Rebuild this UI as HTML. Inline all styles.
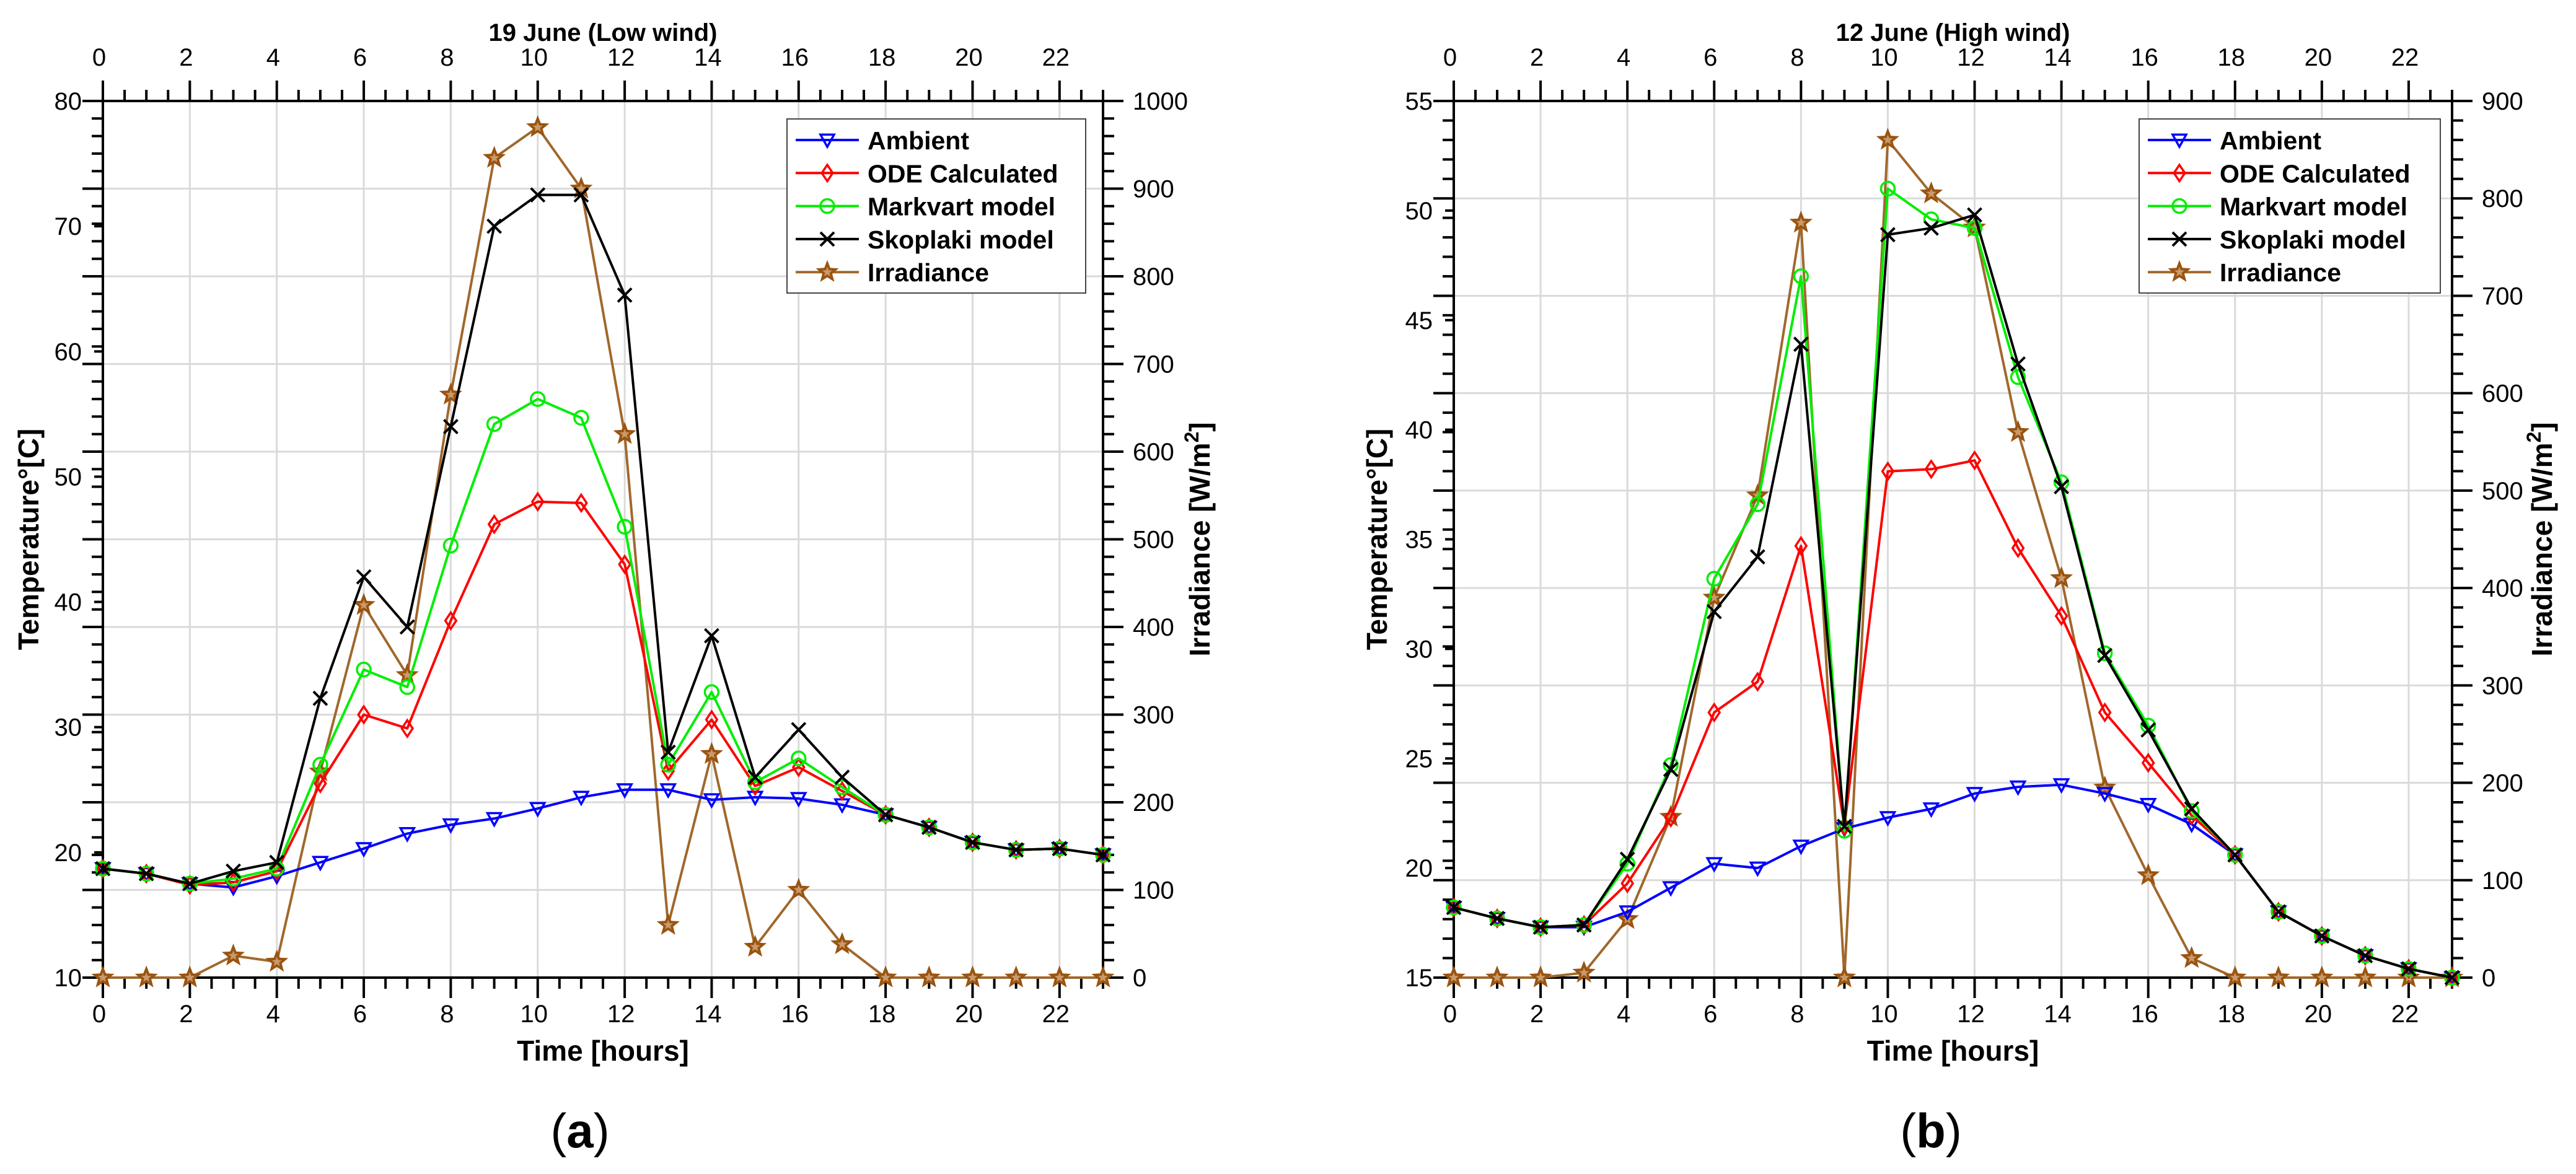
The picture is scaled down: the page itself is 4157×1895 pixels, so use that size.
<!DOCTYPE html>
<html><head><meta charset="utf-8"><style>
html,body{margin:0;padding:0;background:#fff}
svg{display:block}
text{font-family:"Liberation Sans",sans-serif}
</style></head><body>
<svg id="fig" xmlns="http://www.w3.org/2000/svg" width="4157" height="1895" viewBox="0 0 4157 1895"></svg>
<script>
const hours = [0,1,2,3,4,5,6,7,8,9,10,11,12,13,14,15,16,17,18,19,20,21,22,23];
// Panel (a) 19 June
const aAmbient = [18.7,18.3,17.5,17.2,18.1,19.2,20.3,21.5,22.2,22.7,23.5,24.4,25.0,25.0,24.2,24.4,24.3,23.8,23.0,22.0,20.8,20.2,20.3,19.8];
const aODE = [18.7,18.3,17.4,17.6,18.5,25.5,31.0,29.9,38.5,46.2,48.0,47.9,43.0,26.5,30.6,25.3,26.8,24.9,23.0,22.0,20.8,20.2,20.3,19.8];
const aMarkvart = [18.7,18.3,17.5,17.9,18.7,27.0,34.6,33.2,44.5,54.2,56.2,54.7,46.0,27.0,32.8,25.6,27.5,25.2,23.0,22.0,20.8,20.2,20.3,19.8];
const aSkoplaki = [18.7,18.3,17.5,18.5,19.2,32.3,42.0,38.0,54.0,70.0,72.5,72.5,64.5,28.0,37.3,26.0,29.8,26.0,23.0,22.0,20.8,20.2,20.3,19.8];
const aIrr = [0,0,0,25,18,235,425,345,665,935,970,900,620,60,255,35,100,38,0,0,0,0,0,0];
// Panel (b) 12 June
const bAmbient = [18.2,17.7,17.3,17.3,18.0,19.1,20.2,20.0,21.0,21.8,22.3,22.7,23.4,23.7,23.8,23.4,22.9,22.0,20.6,18.0,16.9,16.0,15.4,15.0];
const bODE = [18.2,17.7,17.3,17.4,19.3,22.3,27.1,28.5,34.7,21.9,38.1,38.2,38.6,34.6,31.5,27.1,24.8,22.4,20.6,18.0,16.9,16.0,15.4,15.0];
const bMarkvart = [18.2,17.7,17.3,17.4,20.2,24.7,33.2,36.6,47.0,21.7,51.0,49.6,49.2,42.4,37.6,29.8,26.5,22.6,20.6,18.0,16.9,16.0,15.4,15.0];
const bSkoplaki = [18.2,17.7,17.3,17.4,20.4,24.5,31.7,34.2,43.9,21.9,48.9,49.2,49.8,43.0,37.4,29.7,26.3,22.7,20.6,18.0,16.9,16.0,15.4,15.0];
const bIrr = [0,0,0,5,60,165,390,495,775,0,860,805,770,560,410,195,105,20,0,0,0,0,0,0];
const xTickLabels = [0,2,4,6,8,10,12,14,16,18,20,22];
const aTempTicks = [10,20,30,40,50,60,70,80];
const bTempTicks = [15,20,25,30,35,40,45,50,55];
const aIrrTicks = [0,100,200,300,400,500,600,700,800,900,1000];
const bIrrTicks = [0,100,200,300,400,500,600,700,800,900];
const seriesNames = ["Ambient","ODE Calculated","Markvart model","Skoplaki model","Irradiance"];

const NS="http://www.w3.org/2000/svg";
const svg=document.getElementById('fig');
function el(tag,attrs,parent,txt){const e=document.createElementNS(NS,tag);for(const k in attrs)e.setAttribute(k,attrs[k]);if(txt!==undefined)e.textContent=txt;(parent||svg).appendChild(e);return e;}

function marker(g,type,x,y,color){
  let m;
  const r=11;
  if(type==='tri'){m=el('polygon',{points:`${x-r},${y-r*0.8} ${x+r},${y-r*0.8} ${x},${y+r}`,fill:'none',stroke:color,'stroke-width':3.5},g);}
  else if(type==='dia'){m=el('polygon',{points:`${x},${y-r*1.2} ${x+r*0.8},${y} ${x},${y+r*1.2} ${x-r*0.8},${y}`,fill:'none',stroke:color,'stroke-width':3.5},g);}
  else if(type==='circ'){m=el('circle',{cx:x,cy:y,r:r,fill:'none',stroke:color,'stroke-width':3.5},g);}
  else if(type==='x'){m=el('path',{d:`M${x-r},${y-r}L${x+r},${y+r}M${x-r},${y+r}L${x+r},${y-r}`,stroke:color,'stroke-width':4},g);}
  else {let p=[];for(let i=0;i<10;i++){const a=-Math.PI/2+i*Math.PI/5;const rr=i%2?6:14;p.push((x+rr*Math.cos(a)).toFixed(1)+','+(y+rr*Math.sin(a)).toFixed(1));}
    m=el('polygon',{points:p.join(' '),fill:'#c99a6a',stroke:'#9a5410','stroke-width':4},g);}
  
  
}

function panel(cfg){
  const L=cfg.left,R=cfg.right,T=163,B=1578;
  const g=el('g',{},svg);
  
  
  const X=h=>L+h*(R-L)/23;
  const YT=t=>T+(cfg.tmax-t)/(cfg.tmax-cfg.tmin)*(B-T);
  const YI=v=>B-v/cfg.imax*(B-T);
  const grid=el('g',{stroke:'#dadada','stroke-width':3},g);
  
  
  xTickLabels.forEach(h=>{if(h>0)el('line',{x1:X(h),x2:X(h),y1:T,y2:B},grid);});
  cfg.irrTicks.forEach(v=>{if(v>0&&v<cfg.imax)el('line',{x1:L,x2:R,y1:YI(v),y2:YI(v)},grid);});
  const tk=el('g',{stroke:'#000','stroke-width':4},g);
  
  
  for(let h=0;h<=23;h+=0.5){const maj=(h%2===0);const len=maj?33:18;
    el('line',{x1:X(h),x2:X(h),y1:T,y2:T-len},tk);el('line',{x1:X(h),x2:X(h),y1:B,y2:B+len},tk);}
  for(let v=0;v<=cfg.imax;v+=20){const maj=(v%100===0);const len=maj?33:18;
    el('line',{x1:L,x2:L-len,y1:YI(v),y2:YI(v)},tk);el('line',{x1:R,x2:R+len,y1:YI(v),y2:YI(v)},tk);}
  cfg.tempTicks.forEach(t=>el('line',{x1:L,x2:L-14,y1:YT(t),y2:YT(t)},tk));
  const fr=el('rect',{x:L,y:T,width:R-L,height:B-T,fill:'none',stroke:'#000','stroke-width':4},g);
  
  
  xTickLabels.forEach(h=>{
    const t1=el('text',{x:X(h)-6,y:106,'font-size':40,'text-anchor':'middle'},g,String(h));
    
    
    const t2=el('text',{x:X(h)-6,y:1650,'font-size':40,'text-anchor':'middle'},g,String(h));
    
    
  });
  cfg.tempTicks.forEach(t=>{
    const e=el('text',{x:L-34,y:YT(t)+14,'font-size':40,'text-anchor':'end'},g,String(t));
    
    
  });
  cfg.irrTicks.forEach(v=>{
    const e=el('text',{x:R+48,y:YI(v)+14,'font-size':40},g,String(v));
    
    
  });
  const tt=el('text',{x:(L+R)/2,y:66,'font-size':40,'font-weight':'bold','text-anchor':'middle'},g,cfg.title);
  
  
  const xt=el('text',{x:(L+R)/2,y:1712,'font-size':46,'font-weight':'bold','text-anchor':'middle'},g,'Time [hours]');
  
  
  const yt=el('text',{x:0,y:0,'font-size':46,'font-weight':'bold','text-anchor':'middle',transform:`translate(${cfg.ytX},${(T+B)/2}) rotate(-90)`},g,'Temperature°[C]');
  
  
  const y2=el('text',{x:0,y:0,'font-size':46,'font-weight':'bold','text-anchor':'middle',transform:`translate(${cfg.y2X},${(T+B)/2}) rotate(-90)`},g);
  
  
  y2.appendChild(document.createTextNode('Irradiance [W/m'));
  el('tspan',{dy:-18,'font-size':32},y2,'2');
  el('tspan',{dy:18},y2,']');
  const lab=el('text',{x:cfg.labX,y:1852,'font-size':78,'font-family':'Liberation Serif, serif','text-anchor':'middle'},g);
  
  
  lab.appendChild(document.createTextNode('('));
  el('tspan',{'font-weight':'bold'},lab,cfg.letter);
  lab.appendChild(document.createTextNode(')'));
  const series=[
    {d:cfg.irr,c:'#a0682c',m:'star',irr:true,n:'irradiance-line'},
    {d:cfg.amb,c:'#0000ff',m:'tri',n:'ambient-line'},
    {d:cfg.ode,c:'#ff0000',m:'dia',n:'ode-line'},
    {d:cfg.mark,c:'#00ee00',m:'circ',n:'markvart-line'},
    {d:cfg.skop,c:'#000000',m:'x',n:'skoplaki-line'}];
  series.forEach(s=>{
    const sg=el('g',{},g);
    
    
    const pts=hours.map((h,i)=>[X(h),s.irr?YI(s.d[i]):YT(s.d[i])]);
    el('polyline',{points:pts.map(p=>p.join(',')).join(' '),fill:'none',stroke:s.c,'stroke-width':4,'stroke-linejoin':'round'},sg);
    pts.forEach(p=>marker(sg,s.m,p[0],p[1],s.m==='star'?'#9a5410':s.c));
  });
  const lg=el('g',{},g);
  
  
  el('rect',{x:cfg.legX,y:192,width:cfg.legW,height:281,fill:'#fff',stroke:'#444','stroke-width':2},lg);
  const cols=['#0000ff','#ff0000','#00ee00','#000000','#a0682c'];
  const mk=['tri','dia','circ','x','star'];
  seriesNames.forEach((nm,i)=>{
    const y=226+i*53.3;
    const eg=el('g',{},lg);
    
    
    el('line',{x1:cfg.legX+14,x2:cfg.legX+116,y1:y,y2:y,stroke:cols[i],'stroke-width':4},eg);
    marker(eg,mk[i],cfg.legX+65,y,mk[i]==='star'?'#9a5410':cols[i]);
    el('text',{x:cfg.legX+130,y:y+15,'font-size':41,'font-weight':'bold'},eg,nm);
  });
}

panel({name:'chart-low-wind',left:166,right:1780,tmin:10,tmax:80,imax:1000,title:'19 June (Low wind)',
  tempTicks:aTempTicks,irrTicks:aIrrTicks,amb:aAmbient,ode:aODE,mark:aMarkvart,skop:aSkoplaki,irr:aIrr,
  ytX:62,y2X:1952,labX:936,letter:'a',legX:1270,legW:482});
panel({name:'chart-high-wind',left:2346,right:3957,tmin:15,tmax:55,imax:900,title:'12 June (High wind)',
  tempTicks:bTempTicks,irrTicks:bIrrTicks,amb:bAmbient,ode:bODE,mark:bMarkvart,skop:bSkoplaki,irr:bIrr,
  ytX:2238,y2X:4118,labX:3116,letter:'b',legX:3452,legW:486});
</script>
</body></html>
